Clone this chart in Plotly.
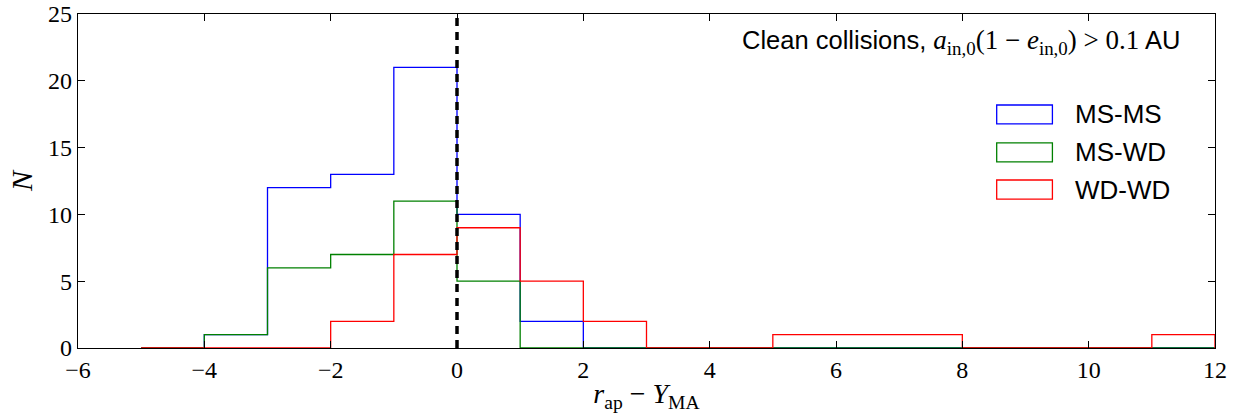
import plotly.graph_objects as go

# bin edges (width 1) and counts per series
bin_edges = list(range(-5, 13))
ms_ms = [0, 1, 12, 13, 21, 10, 2, 0, 0, 0, 0, 0, 0, 0, 0, 0, 0]
ms_wd = [0, 1, 6, 7, 11, 5, 0, 0, 0, 0, 0, 0, 0, 0, 0, 0, 0]
wd_wd = [0, 0, 0, 2, 7, 9, 5, 2, 0, 0, 1, 1, 1, 0, 0, 0, 1]

series = [("MS-MS", ms_ms, "#0000ff"), ("MS-WD", ms_wd, "#008000"), ("WD-WD", wd_wd, "#ff0000")]

x_ticks = list(range(-6, 13, 2))
y_ticks = list(range(0, 26, 5))

SERIF = "Liberation Serif"
SANS = "Liberation Sans"

fig = go.Figure()
for name, counts, color in series:
    xs = [bin_edges[0]] + bin_edges[:-1] + [bin_edges[-1]]
    ys = [0] + counts + [0]
    fig.add_trace(go.Scatter(x=xs, y=ys, mode="lines", line_shape="hv",
                             line=dict(color=color, width=1.3), name=name,
                             showlegend=False, hoverinfo="skip"))

fig.add_vline(x=0, line=dict(color="black", width=3.5, dash="8px,6px"))

# manual legend (outlined boxes)
leg_x0, leg_x1, leg_tx = 0.808, 0.857, 0.875
leg_rows = [(0.7275, 0.671), (0.614, 0.557), (0.503, 0.446)]
for (name, counts, color), (ytop, ybot) in zip(series, leg_rows):
    fig.add_shape(type="rect", xref="paper", yref="paper", x0=leg_x0, x1=leg_x1,
                  y0=ybot, y1=ytop, line=dict(color=color, width=1.3),
                  fillcolor="rgba(0,0,0,0)")
    fig.add_annotation(xref="paper", yref="paper", x=leg_tx, y=(ytop + ybot) / 2,
                       text=name, showarrow=False, xanchor="left", yanchor="middle",
                       font=dict(family=SANS, size=26, color="black"))

m = f'<span style="font-family:{SERIF};font-size:27px">'
title_txt = (f"Clean collisions, {m}<i>a</i><sub>in,0</sub>(1 − <i>e</i><sub>in,0</sub>) &gt; 0.1</span> AU")
fig.add_annotation(xref="paper", yref="paper", x=0.971, y=0.916, text=title_txt,
                   showarrow=False, xanchor="right", yanchor="middle",
                   font=dict(family=SANS, size=25.5, color="black"))

axis_common = dict(showgrid=False, zeroline=False, showline=True, linecolor="black",
                   linewidth=1.3, mirror="ticks", ticks="inside", ticklen=7,
                   tickwidth=1, tickcolor="black", automargin=False,
                   ticklabeloverflow="allow",
                   tickfont=dict(family=SERIF, size=24, color="black"))

fig.update_xaxes(range=[-6, 12], tickvals=x_ticks,
                 ticktext=[f"−{abs(v)}" if v < 0 else str(v) for v in x_ticks],
                 title=dict(text="<i>r</i><sub>ap</sub> − <i>Y</i><sub>MA</sub>",
                            font=dict(family=SERIF, size=28, color="black"), standoff=1),
                 **axis_common)
fig.update_yaxes(range=[0, 25], tickvals=y_ticks,
                 title=dict(text="<i>N</i>", font=dict(family=SERIF, size=30, color="black"),
                            standoff=6),
                 **axis_common)

fig.update_layout(width=1235, height=415, plot_bgcolor="white", paper_bgcolor="white",
                  margin=dict(l=78, r=20, t=14, b=67), showlegend=False)

# remove the default 8px page margin so the figure fills the window exactly
fig.write_html("out.html", config={"displayModeBar": False},
               post_script="document.body.style.margin='0';document.body.style.overflow='hidden';")
